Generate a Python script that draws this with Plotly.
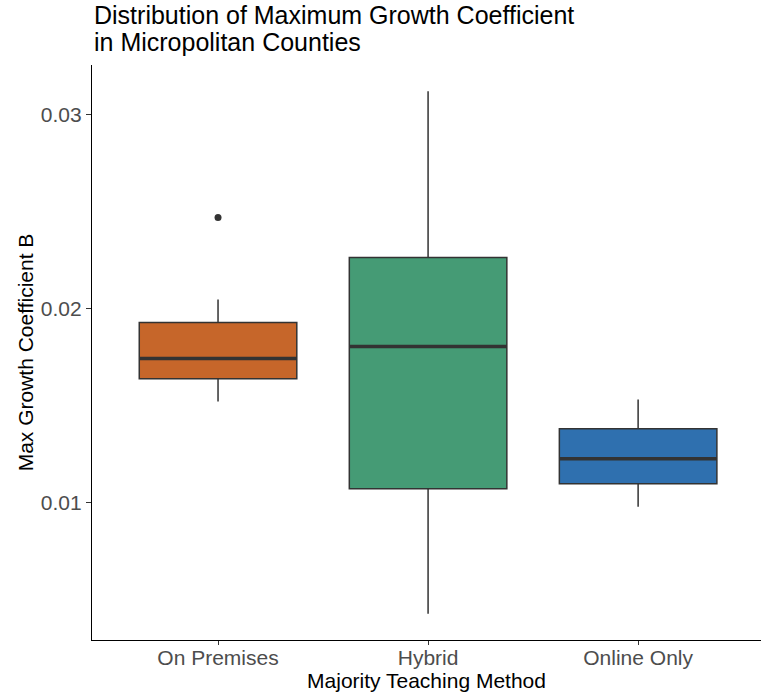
import plotly.graph_objects as go

# Teaching-method groups and their box statistics (max growth coefficient B)
categories = ["On Premises", "Hybrid", "Online Only"]
lower_whisker = [0.01521, 0.00428, 0.00979]
q1_values = [0.01639, 0.01072, 0.01098]
medians = [0.01742, 0.01804, 0.01227]
q3_values = [0.01928, 0.02263, 0.01381]
upper_whisker = [0.02046, 0.03119, 0.01531]
outlier_groups = ["On Premises"]
outlier_values = [0.02469]

title_lines = ["Distribution of Maximum Growth Coefficient", "in Micropolitan Counties"]

fill_colors = ["#C6662A", "#459B75", "#2F70AF"]
edge_color = "#333333"
box_width = 0.75
positions = list(range(1, len(categories) + 1))

W, H = 761, 693
M_L, M_R, M_T, M_B = 92, 0, 65, 53
plot_h = H - M_T - M_B

fig = go.Figure()

for pos, name, lw, q1, med, q3, uw, color in zip(
    positions, categories, lower_whisker, q1_values, medians, q3_values,
    upper_whisker, fill_colors
):
    fig.add_trace(go.Box(
        x=[pos], q1=[q1], median=[med], q3=[q3],
        lowerfence=[lw], upperfence=[uw],
        width=box_width, whiskerwidth=0,
        fillcolor=color, line=dict(color=edge_color, width=1.5),
        boxpoints=False, name=name, showlegend=False, hoverinfo="skip",
    ))
    # thicker median bar drawn over the box
    fig.add_trace(go.Scatter(
        x=[pos - box_width / 2, pos + box_width / 2], y=[med, med],
        mode="lines", line=dict(color=edge_color, width=3.5),
        showlegend=False, hoverinfo="skip",
    ))

fig.add_trace(go.Scatter(
    x=[positions[categories.index(g)] for g in outlier_groups],
    y=outlier_values, mode="markers",
    marker=dict(color=edge_color, size=7),
    showlegend=False, hoverinfo="skip",
))

lo = min(lower_whisker)
hi = max(max(upper_whisker), max(outlier_values))
pad = 0.05 * (hi - lo)

# two-line title placed as annotations above the panel, left-aligned with it
title_centers_px = [15, 42]
annotations = [
    dict(text=line, xref="paper", x=0, xanchor="left",
         yref="paper", y=1 + (M_T - cy) / plot_h, yanchor="middle",
         showarrow=False, font=dict(size=25, color="#000000"))
    for line, cy in zip(title_lines, title_centers_px)
]

fig.update_layout(
    width=W, height=H,
    margin=dict(l=M_L, r=M_R, t=M_T, b=M_B),
    paper_bgcolor="white", plot_bgcolor="white",
    boxmode="overlay",
    font=dict(family="Liberation Sans, Arial, sans-serif", color="#000000"),
    annotations=annotations,
    xaxis=dict(
        range=[0.4, 3.585],
        tickmode="array", tickvals=positions, ticktext=categories,
        showline=True, linecolor="#000000", linewidth=1.3,
        ticks="outside", ticklen=4, tickcolor="#333333", tickwidth=1.1,
        ticklabelstandoff=-5,
        showgrid=False, zeroline=False,
        tickfont=dict(size=21, color="#4D4D4D"),
        title=dict(text="Majority Teaching Method", standoff=0,
                   font=dict(size=21, color="#000000")),
    ),
    yaxis=dict(
        range=[lo - pad, hi + pad],
        tickmode="array", tickvals=[0.01, 0.02, 0.03],
        ticktext=["0.01", "0.02", "0.03"],
        showline=True, linecolor="#000000", linewidth=1.3,
        ticks="outside", ticklen=5, tickcolor="#333333", tickwidth=1.1,
        showgrid=False, zeroline=False,
        tickfont=dict(size=21, color="#4D4D4D"),
        title=dict(text="Max Growth Coefficient B", standoff=1,
                   font=dict(size=21, color="#000000")),
    ),
)

fig.write_html("out.html")
